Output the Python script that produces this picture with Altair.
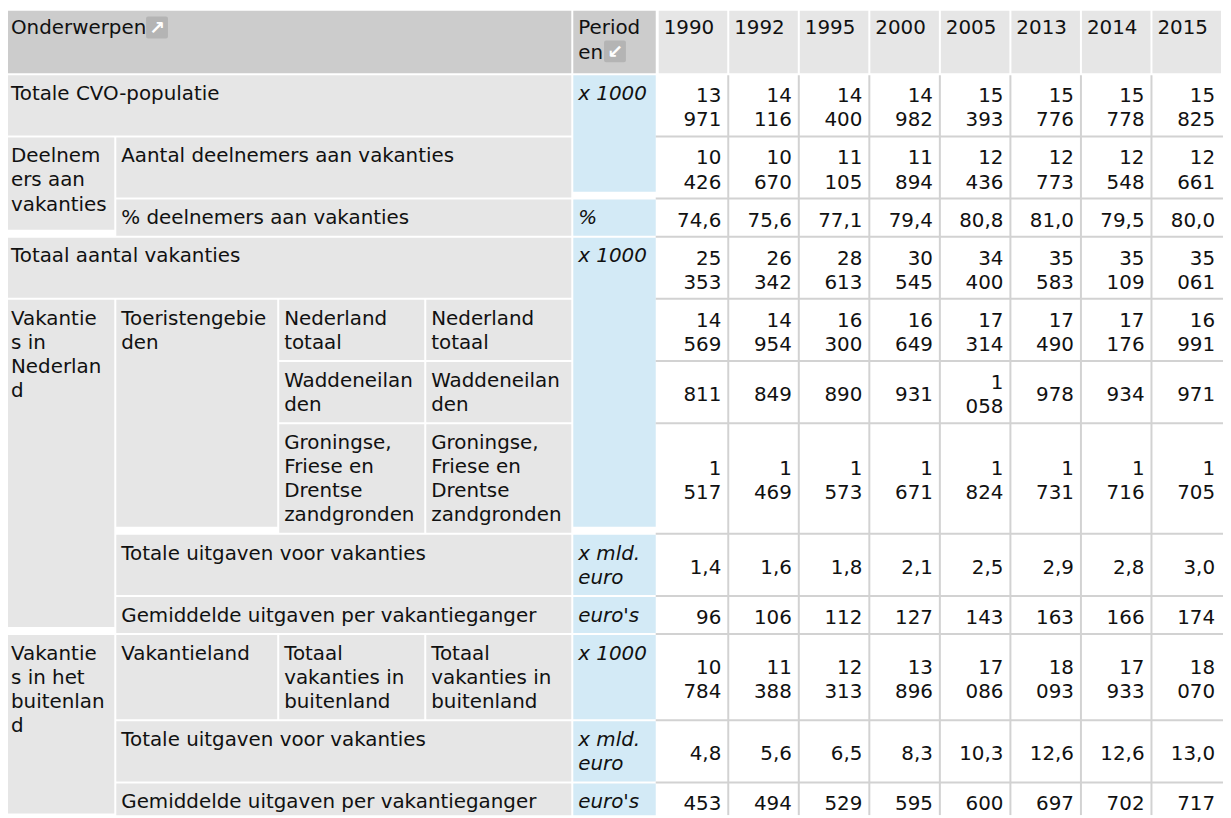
import altair as alt
import pandas as pd

# ---------------- data ----------------
years = [1990, 1992, 1995, 2000, 2005, 2013, 2014, 2015]

totale_cvo_populatie = [13971, 14116, 14400, 14982, 15393, 15776, 15778, 15825]
aantal_deelnemers = [10426, 10670, 11105, 11894, 12436, 12773, 12548, 12661]
pct_deelnemers = [74.6, 75.6, 77.1, 79.4, 80.8, 81.0, 79.5, 80.0]
totaal_vakanties = [25353, 26342, 28613, 30545, 34400, 35583, 35109, 35061]
nederland_totaal = [14569, 14954, 16300, 16649, 17314, 17490, 17176, 16991]
waddeneilanden = [811, 849, 890, 931, 1058, 978, 934, 971]
groningse_friese_drentse = [1517, 1469, 1573, 1671, 1824, 1731, 1716, 1705]
uitgaven_nl = [1.4, 1.6, 1.8, 2.1, 2.5, 2.9, 2.8, 3.0]
gem_uitgaven_nl = [96, 106, 112, 127, 143, 163, 166, 174]
vakanties_buitenland = [10784, 11388, 12313, 13896, 17086, 18093, 17933, 18070]
uitgaven_bl = [4.8, 5.6, 6.5, 8.3, 10.3, 12.6, 12.6, 13.0]
gem_uitgaven_bl = [453, 494, 529, 595, 600, 697, 702, 717]

body_values = [
    totale_cvo_populatie, aantal_deelnemers, pct_deelnemers, totaal_vakanties,
    nederland_totaal, waddeneilanden, groningse_friese_drentse, uitgaven_nl,
    gem_uitgaven_nl, vakanties_buitenland, uitgaven_bl, gem_uitgaven_bl,
]

header_onderwerpen = "Onderwerpen"
header_perioden = "Period\nen"

# (text, first col, last col, first row, last row)   rows 0..11 = body rows
label_cells = [
    ("Totale CVO-populatie", 0, 3, 0, 0),
    ("Deelnem\ners aan\nvakanties", 0, 0, 1, 2),
    ("Aantal deelnemers aan vakanties", 1, 3, 1, 1),
    ("% deelnemers aan vakanties", 1, 3, 2, 2),
    ("Totaal aantal vakanties", 0, 3, 3, 3),
    ("Vakantie\ns in\nNederlan\nd", 0, 0, 4, 8),
    ("Toeristengebie\nden", 1, 1, 4, 6),
    ("Nederland\ntotaal", 2, 2, 4, 4),
    ("Nederland\ntotaal", 3, 3, 4, 4),
    ("Waddeneilan\nden", 2, 2, 5, 5),
    ("Waddeneilan\nden", 3, 3, 5, 5),
    ("Groningse,\nFriese en\nDrentse\nzandgronden", 2, 2, 6, 6),
    ("Groningse,\nFriese en\nDrentse\nzandgronden", 3, 3, 6, 6),
    ("Totale uitgaven voor vakanties", 1, 3, 7, 7),
    ("Gemiddelde uitgaven per vakantieganger", 1, 3, 8, 8),
    ("Vakantie\ns in het\nbuitenlan\nd", 0, 0, 9, 11),
    ("Vakantieland", 1, 1, 9, 9),
    ("Totaal\nvakanties in\nbuitenland", 2, 2, 9, 9),
    ("Totaal\nvakanties in\nbuitenland", 3, 3, 9, 9),
    ("Totale uitgaven voor vakanties", 1, 3, 10, 10),
    ("Gemiddelde uitgaven per vakantieganger", 1, 3, 11, 11),
]

# (unit text, first row, last row)
unit_cells = [
    ("x 1000", 0, 1),
    ("%", 2, 2),
    ("x 1000", 3, 6),
    ("x mld.\neuro", 7, 7),
    ("euro's", 8, 8),
    ("x 1000", 9, 9),
    ("x mld.\neuro", 10, 10),
    ("euro's", 11, 11),
]

# ---------------- layout (sizes / styles) ----------------
W, H = 1223, 810
FONT = "DejaVu Sans"
FS = 20
LH = 24.3
PAD_V = 6
PAD_H = 5
GAP = 2
SHORT = 6            # spanned cells end a little early, as in the source
lines_per_row = [2, 2, 1, 2, 2, 2, 4, 2, 1, 3, 2, 1]
header_top, header_bottom = 7, 71
label_cols = [(6, 115), (117, 279), (281, 427), (429, 575)]
unit_col = (577, 660)
year_x0, year_step, year_w = 663, 71, 69

C_DARK = "#cccccc"
C_LIGHT = "#e6e6e6"
C_BLUE = "#d3eaf6"
C_LINE = "#d2d2d2"
C_ICON = "#b4b4b4"
C_TEXT = "#111111"

# row geometry
rows = []
y = header_bottom + GAP
for n in lines_per_row:
    rows.append((y, y + n * LH + 2 * PAD_V))
    y = y + n * LH + 2 * PAD_V + GAP

year_cols = [(year_x0 + i * year_step, year_x0 + i * year_step + year_w) for i in range(len(years))]

rects, labels, units, numbers, rules = [], [], [], [], []

# header
rects.append(dict(x0=label_cols[0][0], x1=label_cols[3][1], y0=header_top, y1=header_bottom, fill=C_DARK))
labels.append(dict(x=label_cols[0][0] + PAD_H, y=header_top + PAD_V, text=header_onderwerpen))
rects.append(dict(x0=unit_col[0], x1=unit_col[1], y0=header_top, y1=header_bottom, fill=C_DARK))
labels.append(dict(x=unit_col[0] + PAD_H, y=header_top + PAD_V, text=header_perioden))
for (x0, x1), yr in zip(year_cols, years):
    rects.append(dict(x0=x0, x1=x1, y0=header_top, y1=header_bottom, fill=C_LIGHT))
    labels.append(dict(x=x0 + PAD_H, y=header_top + PAD_V, text=str(yr)))

# label cells
for text, c0, c1, r0, r1 in label_cells:
    y0 = rows[r0][0]
    y1 = rows[r1][1] - (SHORT if r1 > r0 else 0)
    rects.append(dict(x0=label_cols[c0][0], x1=label_cols[c1][1], y0=y0, y1=y1, fill=C_LIGHT))
    labels.append(dict(x=label_cols[c0][0] + PAD_H, y=y0 + PAD_V, text=text))

# unit cells
for text, r0, r1 in unit_cells:
    y0 = rows[r0][0]
    y1 = rows[r1][1] - (SHORT if r1 > r0 else 0)
    rects.append(dict(x0=unit_col[0], x1=unit_col[1], y0=y0, y1=y1, fill=C_BLUE))
    units.append(dict(x=unit_col[0] + PAD_H, y=y0 + PAD_V, text=text))


def fmt(v):
    if isinstance(v, float):
        return f"{v:.1f}".replace(".", ",")
    if v >= 1000:
        return f"{v // 1000}\n{v % 1000:03d}"
    return str(v)


# data cells (numbers vertically centred in their row)
for r, vals in enumerate(body_values):
    y0, y1 = rows[r]
    for (x0, x1), v in zip(year_cols, vals):
        s = fmt(v)
        n = s.count("\n") + 1
        numbers.append(dict(x=x1 - 6, y=(y0 + y1) / 2 - (n - 1) * LH / 2, text=s))
    if r > 0:
        rules.append(dict(x0=unit_col[1], x1=W + 8, y0=y0 - 1, y1=y0 - 1))
for x0, x1 in year_cols[:-1]:
    rules.append(dict(x0=x1 + 1, x1=x1 + 1, y0=rows[0][0], y1=H + 8))

# icons next to "Onderwerpen" and "en"
icons = [
    dict(x0=147, x1=169, y0=14, y1=36, arrow="\u2197"),
    dict(x0=608, x1=630, y0=38, y1=60, arrow="\u2199"),
]

xs = alt.Scale(domain=[8, 8 + W], nice=False, zero=False)
ys = alt.Scale(domain=[8, 8 + H], reverse=True, nice=False, zero=False)

df_rect = pd.DataFrame(rects)
df_lab = pd.DataFrame(labels)
df_unit = pd.DataFrame(units)
df_num = pd.DataFrame(numbers)
df_rule = pd.DataFrame(rules)
df_icon = pd.DataFrame(icons)
df_icon["xc"] = (df_icon.x0 + df_icon.x1) / 2
df_icon["yc"] = (df_icon.y0 + df_icon.y1) / 2

X = lambda f: alt.X(f, type="quantitative", scale=xs, axis=None)
Y = lambda f: alt.Y(f, type="quantitative", scale=ys, axis=None)

cells = alt.Chart(df_rect).mark_rect(clip=True).encode(
    x=X("x0"), x2="x1", y=Y("y0"), y2="y1", color=alt.Color("fill:N", scale=None)
)
lines = alt.Chart(df_rule).mark_rule(color=C_LINE, strokeWidth=2, clip=True).encode(
    x=X("x0"), x2="x1", y=Y("y0"), y2="y1"
)
text_kw = dict(font=FONT, fontSize=FS, lineHeight=LH, lineBreak="\n", color=C_TEXT)
lab = alt.Chart(df_lab).mark_text(align="left", baseline="line-top", dy=1, **text_kw).encode(
    x=X("x"), y=Y("y"), text="text:N"
)
unit = alt.Chart(df_unit).mark_text(align="left", baseline="line-top", dy=1, fontStyle="italic", **text_kw).encode(
    x=X("x"), y=Y("y"), text="text:N"
)
num = alt.Chart(df_num).mark_text(align="right", baseline="middle", dy=3, **text_kw).encode(
    x=X("x"), y=Y("y"), text="text:N"
)
icon_box = alt.Chart(df_icon).mark_rect(cornerRadius=2, color=C_ICON).encode(
    x=X("x0"), x2="x1", y=Y("y0"), y2="y1"
)
icon_arrow = alt.Chart(df_icon).mark_text(font=FONT, fontSize=19, fontWeight="bold", color="white",
                                         align="center", baseline="middle", dy=1).encode(
    x=X("xc"), y=Y("yc"), text="arrow:N"
)

chart = (
    alt.layer(cells, lines, lab, unit, num, icon_box, icon_arrow)
    .properties(width=W, height=H, padding=0, autosize=alt.AutoSizeParams(type="none"), background="white")
    .configure_view(stroke=None)
)

chart.save("out.html", embed_options={"renderer": "svg", "actions": False})
